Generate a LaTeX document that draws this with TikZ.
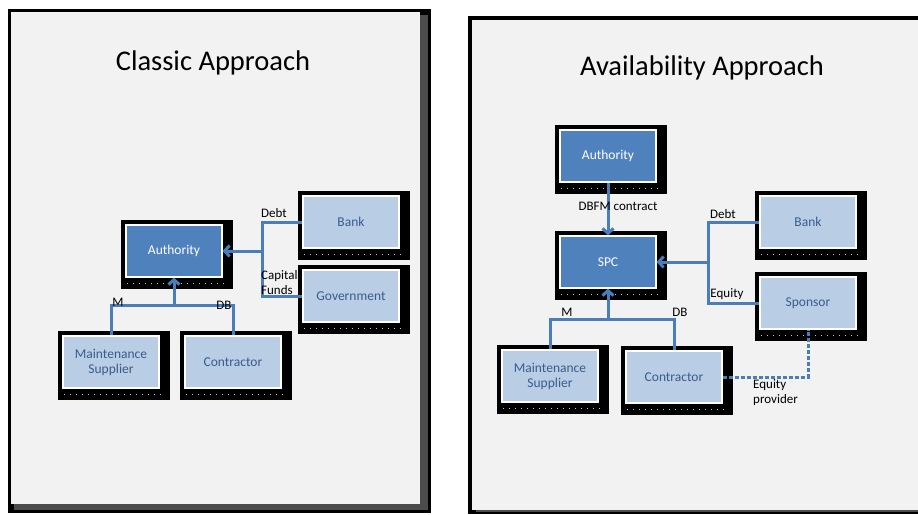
\documentclass[tikz,border=0pt]{standalone}
\usepackage{fontspec}
\setmainfont{Carlito}
\usetikzlibrary{arrows.meta,calc}
\definecolor{panelgray}{HTML}{F2F2F2}
\definecolor{darkbox}{HTML}{4F81BD}
\definecolor{lightbox}{HTML}{B9CDE5}
\definecolor{boxtext}{HTML}{385D8A}
\definecolor{linkblue}{HTML}{4A7EBB}
\pgfdeclarelayer{panel}
\pgfdeclarelayer{shade}
\pgfsetlayers{panel,shade,main}

\begin{document}
\begin{tikzpicture}[x=1pt,y=-1pt,
  dark/.style={draw=white, line width=1.2pt, fill=darkbox, text=white,
    minimum width=96pt, minimum height=52pt, align=center,
    font=\fontsize{13.5}{15}\selectfont},
  light/.style={dark, fill=lightbox, text=boxtext},
  wire/.style={draw=linkblue, line width=3pt},
  flow/.style={wire, -{Straight Barb[length=5pt,width=11pt]}},
  lbl/.style={font=\fontsize{13}{15}\selectfont, inner sep=0pt, align=left},
  title/.style={font=\fontsize{28.5}{32}\selectfont}]
  \useasboundingbox (0,0) rectangle (918,514);

  % the two panels
  \begin{pgfonlayer}{panel}
    \fill[white] (0,0) rectangle (918,514);
    \fill[black] (8,9) rectangle (431,513);
    \fill[black!70] (14,15) rectangle (428,510);
    \fill[panelgray] (11,12) rectangle (420,504);
    \fill[black] (468,16) rectangle (918,514);
    \fill[black!70] (476,24) rectangle (918,512);
    \fill[panelgray] (472,20) rectangle (918,510);
  \end{pgfonlayer}

  \node[title] (titleL) at (213,63) {Classic Approach};
  \node[title] (titleR) at (702,68) {Availability Approach};

  % classic approach
  \node[dark]  (authL)  at (174,251) {Authority};
  \node[light] (bankL)  at (351,222) {Bank};
  \node[light] (govL)   at (351,296) {Government};
  \node[light] (maintL) at (111,362) {Maintenance\\Supplier};
  \node[light] (contrL) at (233,362) {Contractor};
  \coordinate (finL) at (262,251);
  \coordinate (subL) at (174,305);

  \draw[wire] (bankL.west) -| (finL) |- (govL.west);
  \draw[flow] (finL) -- (authL.east);
  \draw[wire] (maintL.north) |- (subL) -| (contrL.north);
  \draw[flow] (subL) -- (authL.south);

  \node[lbl] (debtL) at (274,213) {Debt};
  \node[lbl, anchor=west] (capL) at (261,282.5) {Capital\\Funds};
  \node[lbl] (mL)  at (118,302) {M};
  \node[lbl] (dbL) at (224,305) {DB};

  % availability approach
  \node[dark]  (authR)  at (608,156) {Authority};
  \node[dark]  (spcR)   at (608,262) {SPC};
  \node[light] (bankR)  at (808,222) {Bank};
  \node[light] (sponR)  at (808,303) {Sponsor};
  \node[light] (maintR) at (550,376) {Maintenance\\Supplier};
  \node[light] (contrR) at (674,377) {Contractor};
  \coordinate (finR) at (708,262);
  \coordinate (subR) at (608,319);

  \draw[flow] (authR.south) -- (spcR.north);
  \draw[wire] (bankR.west) -| (finR) |- (sponR.west);
  \draw[flow] (finR) -- (spcR.east);
  \draw[wire] (maintR.north) |- (subR) -| (contrR.north);
  \draw[flow] (subR) -- (spcR.south);
  \draw[wire, dash pattern=on 4pt off 2pt] (contrR.east) -| (sponR.south);

  \node[lbl] (dbfmR) at (618,206) {DBFM contract};
  \node[lbl] (debtR) at (723,214) {Debt};
  \node[lbl] (eqR)   at (727,294) {Equity};
  \node[lbl] (mR)    at (567,312) {M};
  \node[lbl] (dbR)   at (680,312) {DB};
  \node[lbl, anchor=west] (provR) at (753,393) {Equity\\provider};

  % black 3d backdrops of the boxes
  \begin{pgfonlayer}{shade}
    \foreach \n in {authL,bankL,govL,maintL,contrL,authR,spcR,bankR,sponR,maintR,contrR} {
      \fill[black] ($(\n.north west)+(-4,-4)$) rectangle ($(\n.south east)+(10,11)$);
      \draw[gray!45, line width=0.5pt, dash pattern=on 1pt off 5pt]
        ($(\n.south west)+(2,6)$) -- ($(\n.south east)+(6,6)$);
    }
  \end{pgfonlayer}
\end{tikzpicture}
\end{document}
